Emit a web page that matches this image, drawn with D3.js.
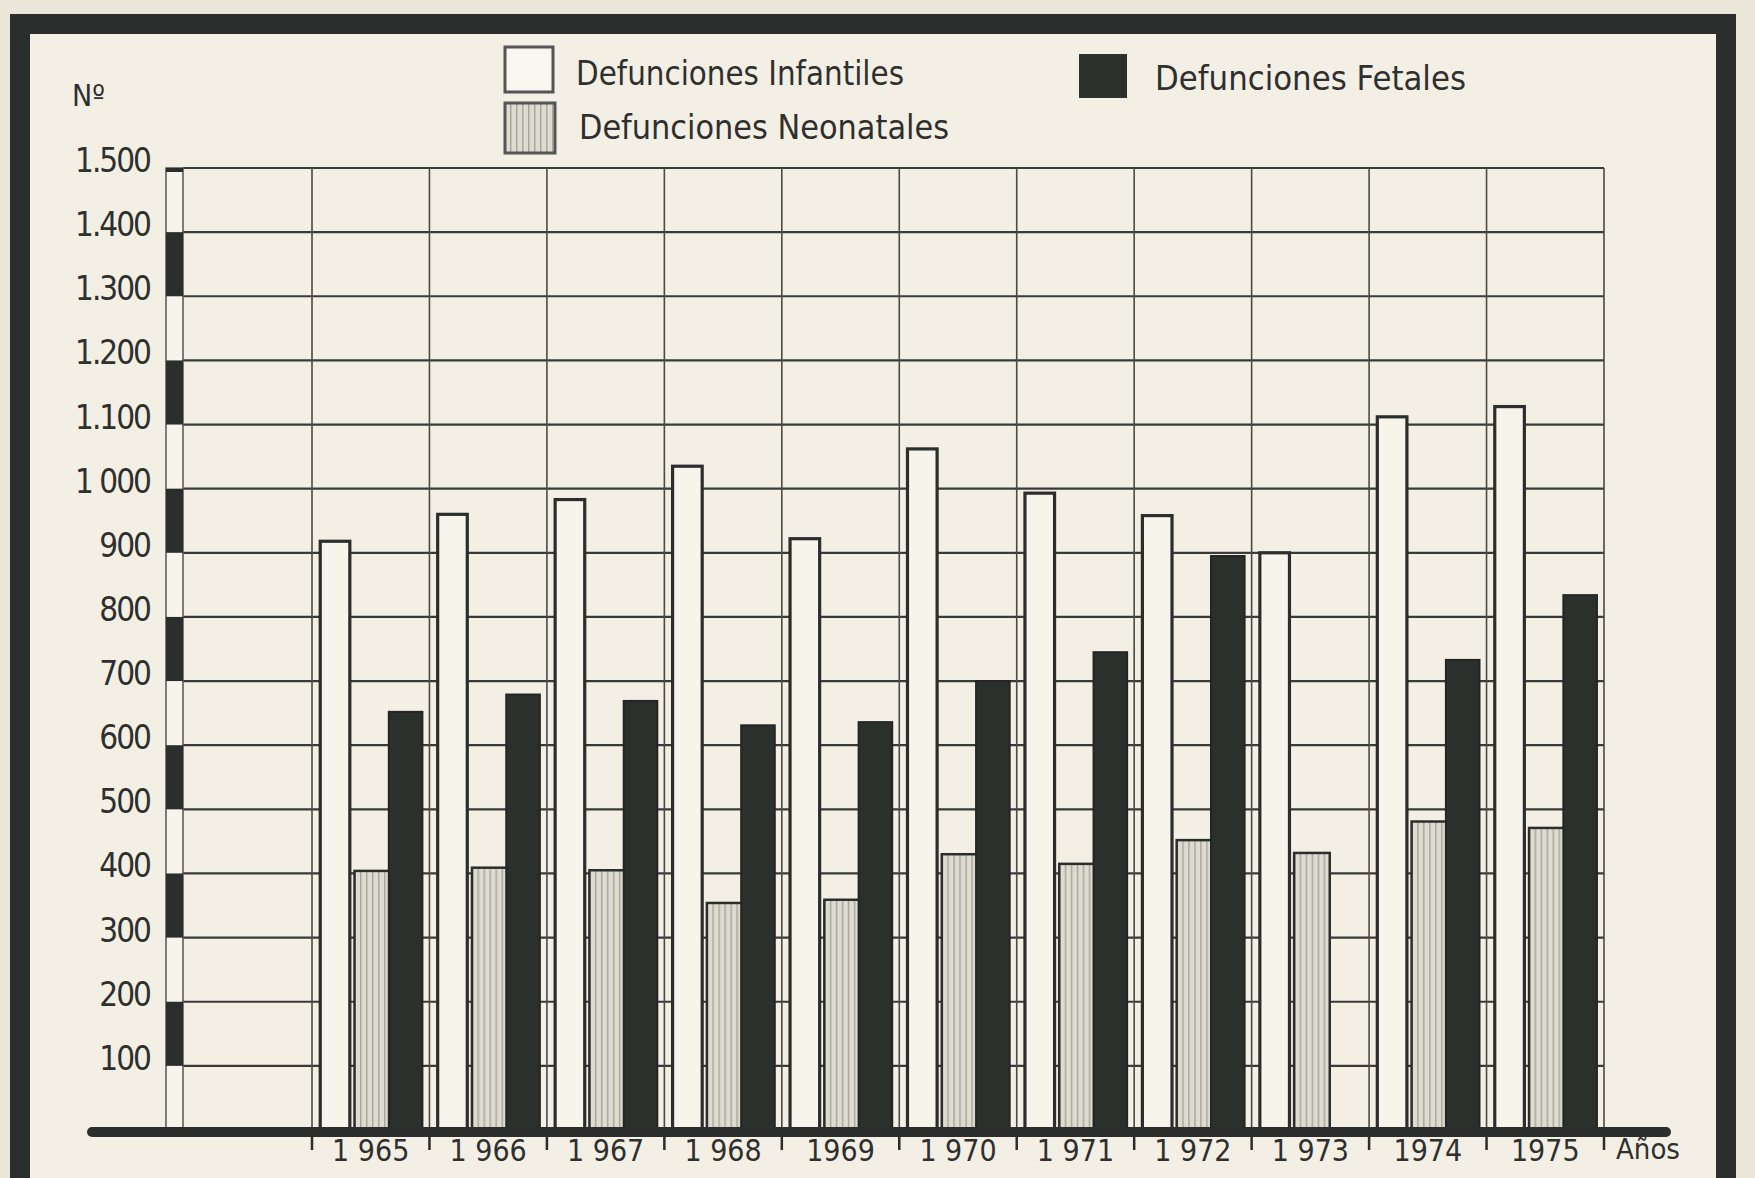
<!DOCTYPE html>
<html>
<head>
<meta charset="utf-8">
<script src="https://cdn.jsdelivr.net/npm/d3@7/dist/d3.min.js"></script>
<style>
  html, body { margin: 0; padding: 0; background: #ebe6da; }
  svg { display: block; }
  text { font-family: "DejaVu Sans Condensed", "Liberation Sans Narrow", "DejaVu Sans", sans-serif; fill: #2f302e; }
</style>
</head>
<body>
<svg id="chart" width="1755" height="1178"></svg>
<script>
// ---- data ----
const years = ["1965","1966","1967","1968","1969","1970","1971","1972","1973","1974","1975"];
const yearLabels = ["1 965","1 966","1 967","1 968","1969","1 970","1 971","1 972","1 973","1974","1975"];
const infantiles = [918, 960, 983, 1035, 922, 1062, 993, 958, 900, 1112, 1128];
const neonatales = [404, 409, 405, 354, 359, 430, 415, 452, 432, 481, 471];
const fetales    = [652, 679, 669, 631, 636, 700, 745, 895, null, 733, 834];
const yTickValues = [100,200,300,400,500,600,700,800,900,1000,1100,1200,1300,1400,1500];
const yTickLabels = ["100","200","300","400","500","600","700","800","900","1 000","1.100","1.200","1.300","1.400","1.500"];
const seriesKeys = ["inf","neo","fet"];
const legendLabels = ["Defunciones Infantiles","Defunciones Fetales","Defunciones Neonatales"];

// ---- layout ----
const svg = d3.select("#chart");
const W = 1755, H = 1178;
const ink = "#2b2e2c";

const y = d3.scaleLinear().domain([0, 1500]).range([1130, 168]);
const x = d3.scaleBand().domain(years).range([312, 1604]).padding(0);
const bw = x.bandwidth();
const xs = d3.scaleBand().domain(seriesKeys).range([0.07 * bw, 0.94 * bw]).paddingInner(0.02);

// page background
svg.append("rect").attr("width", W).attr("height", H).attr("fill", "#ebe6da");
svg.append("rect").attr("x", 20).attr("y", 24).attr("width", 1706).attr("height", 1260)
  .attr("fill", "#f3efe5").attr("stroke", ink).attr("stroke-width", 20);

// defs: neonatal stripe pattern
const defs = svg.append("defs");
const pat = defs.append("pattern").attr("id", "stripes").attr("patternUnits", "userSpaceOnUse")
  .attr("width", 6).attr("height", 10);
pat.append("rect").attr("width", 6).attr("height", 10).attr("fill", "#dedbd1");
pat.append("rect").attr("x", 0).attr("width", 1.5).attr("height", 10).attr("fill", "#a9a69c");

const axisX0 = 166, axisX1 = 183;
const gridRight = x.range()[1];

// horizontal grid
svg.append("g").selectAll("line").data(yTickValues).join("line")
  .attr("x1", axisX1).attr("x2", gridRight)
  .attr("y1", d => y(d)).attr("y2", d => y(d))
  .attr("stroke", "#3a3a38").attr("stroke-width", 2.2);

// vertical grid at band boundaries
const boundaries = years.map(d => x(d)).concat([gridRight]);
svg.append("g").selectAll("line").data(boundaries).join("line")
  .attr("x1", d => d).attr("x2", d => d)
  .attr("y1", y(1500)).attr("y2", y(0))
  .attr("stroke", "#4a4a47").attr("stroke-width", 1.6);

// y-axis scale bar (alternating black/white)
const sb = svg.append("g");
sb.append("rect").attr("x", axisX0).attr("y", y(1500)).attr("width", axisX1 - axisX0)
  .attr("height", y(0) - y(1500)).attr("fill", "#f7f4ec").attr("stroke", "#555").attr("stroke-width", 1.5);
const blackSeg = yTickValues.filter(v => v % 200 === 0);
sb.selectAll("rect.seg").data(blackSeg).join("rect").attr("class", "seg")
  .attr("x", axisX0).attr("width", axisX1 - axisX0)
  .attr("y", d => y(d)).attr("height", d => y(d - 100) - y(d))
  .attr("fill", ink);
sb.append("rect").attr("x", axisX0).attr("y", y(1500)).attr("width", axisX1 - axisX0).attr("height", 4).attr("fill", ink);

// y labels
svg.append("g").selectAll("text").data(yTickValues).join("text")
  .attr("x", 150).attr("y", d => y(d) + 4)
  .attr("text-anchor", "end").attr("font-size", 33).attr("letter-spacing", -2)
  .text((d, i) => yTickLabels[i]);

svg.append("text").attr("x", 72).attr("y", 106).attr("font-size", 30).text("Nº");

// bars
const gBars = svg.append("g");
years.forEach((yr, i) => {
  const g = gBars.append("g").attr("transform", `translate(${x(yr)},0)`);
  g.append("rect").attr("x", xs("inf")).attr("width", xs.bandwidth() - 4)
    .attr("y", y(infantiles[i])).attr("height", y(0) - y(infantiles[i]))
    .attr("fill", "#f7f4eb").attr("stroke", ink).attr("stroke-width", 3.2);
  g.append("rect").attr("x", xs("neo")).attr("width", xs.bandwidth() + 2)
    .attr("y", y(neonatales[i])).attr("height", y(0) - y(neonatales[i]))
    .attr("fill", "url(#stripes)").attr("stroke", ink).attr("stroke-width", 2.5);
  if (fetales[i] != null) {
    g.append("rect").attr("x", xs("fet")).attr("width", xs.bandwidth())
      .attr("y", y(fetales[i])).attr("height", y(0) - y(fetales[i]))
      .attr("fill", "#2c302d").attr("stroke", "#232624").attr("stroke-width", 2);
  }
});

// baseline
svg.append("line").attr("x1", 92).attr("x2", 1666).attr("y1", y(0) + 2).attr("y2", y(0) + 2)
  .attr("stroke", ink).attr("stroke-width", 10).attr("stroke-linecap", "round");

// x ticks and labels
svg.append("g").selectAll("line").data(boundaries).join("line")
  .attr("x1", d => d).attr("x2", d => d).attr("y1", y(0)).attr("y2", y(0) + 20)
  .attr("stroke", ink).attr("stroke-width", 2.5);
svg.append("g").selectAll("text").data(years).join("text")
  .attr("x", d => x(d) + bw / 2).attr("y", 1161)
  .attr("text-anchor", "middle").attr("font-size", 30)
  .text((d, i) => yearLabels[i]);
svg.append("text").attr("x", 1616).attr("y", 1159).attr("font-size", 29).text("Años");

// legend
const leg = svg.append("g");
leg.append("rect").attr("x", 505).attr("y", 47).attr("width", 48).attr("height", 45)
  .attr("fill", "#f8f6ef").attr("stroke", "#555").attr("stroke-width", 3);
leg.append("rect").attr("x", 1079).attr("y", 54).attr("width", 48).attr("height", 44)
  .attr("fill", "#2c302d");
leg.append("rect").attr("x", 505).attr("y", 103).attr("width", 50).attr("height", 50)
  .attr("fill", "url(#stripes)").attr("stroke", "#555").attr("stroke-width", 3);
const legendPos = [[576, 85, 328], [1155, 90, 311], [579, 139, 370]];
leg.selectAll("text").data(legendLabels).join("text")
  .attr("x", (d, i) => legendPos[i][0]).attr("y", (d, i) => legendPos[i][1])
  .attr("font-size", 34)
  .attr("textLength", (d, i) => legendPos[i][2]).attr("lengthAdjust", "spacingAndGlyphs")
  .text(d => d);
</script>
</body>
</html>
